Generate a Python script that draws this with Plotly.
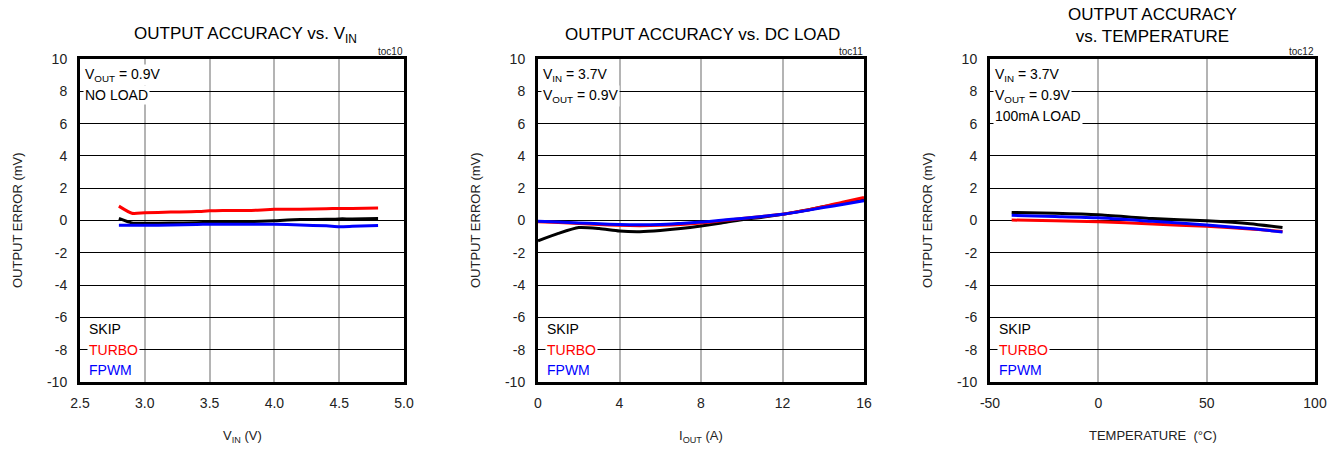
import plotly.graph_objects as go

# ---- data ----
vin = [2.8, 2.9, 3.0, 3.2, 3.4, 3.5, 3.6, 3.8, 4.0, 4.2, 4.4, 4.5, 4.6, 4.8]
vin_skip = [0.13, -0.15, -0.17, -0.16, -0.14, -0.12, -0.11, -0.08, -0.01, 0.06, 0.07, 0.1, 0.1, 0.12]
vin_turbo = [0.89, 0.45, 0.48, 0.52, 0.55, 0.6, 0.62, 0.62, 0.69, 0.7, 0.73, 0.75, 0.75, 0.77]
vin_fpwm = [-0.3, -0.3, -0.3, -0.28, -0.25, -0.23, -0.23, -0.23, -0.23, -0.28, -0.33, -0.38, -0.36, -0.31]

iout = [0, 1, 2, 3, 4, 5, 6, 7, 8, 9, 10, 11, 12, 13, 14, 15, 16]
iout_skip = [-1.26, -0.8, -0.44, -0.5, -0.65, -0.69, -0.62, -0.5, -0.34, -0.15, 0.05, 0.2, 0.38, 0.6, 0.85, 1.06, 1.28]
iout_turbo = [-0.07, -0.12, -0.18, -0.24, -0.3, -0.32, -0.3, -0.24, -0.15, -0.02, 0.12, 0.25, 0.38, 0.6, 0.85, 1.15, 1.43]
iout_fpwm = [-0.05, -0.1, -0.15, -0.2, -0.25, -0.27, -0.25, -0.18, -0.1, 0.02, 0.13, 0.25, 0.38, 0.58, 0.8, 1.0, 1.22]

temp = [-40, -20, 0, 25, 50, 70, 85]
temp_skip = [0.5, 0.45, 0.36, 0.12, -0.02, -0.2, -0.44]
temp_turbo = [0.03, -0.02, -0.07, -0.22, -0.36, -0.52, -0.68]
temp_fpwm = [0.32, 0.25, 0.17, -0.05, -0.28, -0.5, -0.71]

y_ticks = [-10, -8, -6, -4, -2, 0, 2, 4, 6, 8, 10]
y_labels = ["-10", "-8", "-6", "-4", "-2", "0", "2", "4", "6", "8", "10"]
x1_ticks = [2.5, 3.0, 3.5, 4.0, 4.5, 5.0]
x1_labels = ["2.5", "3.0", "3.5", "4.0", "4.5", "5.0"]
x2_ticks = [0, 4, 8, 12, 16]
x2_labels = ["0", "4", "8", "12", "16"]
x3_ticks = [-50, 0, 50, 100]
x3_labels = ["-50", "0", "50", "100"]

series_names = ["SKIP", "TURBO", "FPWM"]
series_colors = ["#000000", "#ff0000", "#0000ff"]

W, H = 1338, 450
FONT = "Liberation Sans, Arial, sans-serif"

# panel frames in pixels: (left, right)
panels = [(80, 404), (538, 864), (990, 1315)]
top_px, bot_px = 59, 382

fig = go.Figure()

datasets = [
    (vin, [vin_skip, vin_turbo, vin_fpwm]),
    (iout, [iout_skip, iout_turbo, iout_fpwm]),
    (temp, [temp_skip, temp_turbo, temp_fpwm]),
]

for i, (xs, ys) in enumerate(datasets):
    xa = "x" if i == 0 else f"x{i+1}"
    ya = "y" if i == 0 else f"y{i+1}"
    for name, col, yv in zip(series_names, series_colors, ys):
        fig.add_trace(go.Scatter(x=xs, y=yv, mode="lines", name=name,
                                 line=dict(color=col, width=3, shape="spline", smoothing=0.6),
                                 xaxis=xa, yaxis=ya, showlegend=False, hoverinfo="skip"))

xranges = [[2.5, 5.0], [0, 16], [-50, 100]]
xtickvals = [x1_ticks, x2_ticks, x3_ticks]
xticktext = [x1_labels, x2_labels, x3_labels]

layout = dict(template="none", width=W, height=H, margin=dict(l=0, r=0, t=0, b=0, pad=0),
              paper_bgcolor="white", plot_bgcolor="white",
              font=dict(family=FONT, size=13, color="#222"))

ydom = [1 - bot_px / H, 1 - top_px / H]
for i, (l, r) in enumerate(panels):
    xkey = "xaxis" if i == 0 else f"xaxis{i+1}"
    ykey = "yaxis" if i == 0 else f"yaxis{i+1}"
    yname = "y" if i == 0 else f"y{i+1}"
    xname = "x" if i == 0 else f"x{i+1}"
    layout[xkey] = dict(domain=[l / W, r / W], range=xranges[i], anchor=yname,
                        automargin=False,
                        tickmode="array", tickvals=xtickvals[i], ticktext=xticktext[i],
                        showgrid=True, gridcolor="#b4b4b4", gridwidth=2,
                        zeroline=False, showline=True, linecolor="black", linewidth=3,
                        mirror=True, ticks="outside", ticklen=6, tickcolor="rgba(0,0,0,0)",
                        tickfont=dict(family=FONT, size=14, color="#222"))
    layout[ykey] = dict(domain=ydom, range=[-10, 10], anchor=xname,
                        automargin=False,
                        tickmode="array", tickvals=y_ticks, ticktext=y_labels,
                        showgrid=True, gridcolor="black", gridwidth=1,
                        zeroline=False, showline=True, linecolor="black", linewidth=3,
                        mirror=True, ticks="outside", ticklen=7, tickcolor="rgba(0,0,0,0)",
                        tickfont=dict(family=FONT, size=14, color="#222"))

fig.update_layout(**layout)

ann = []
def px_x(p):
    return p / W
def px_y(p):
    return 1 - p / H

titles = [
    ("OUTPUT ACCURACY vs. V<sub>IN</sub>", 245, 35),
    ("OUTPUT ACCURACY vs. DC LOAD", 702, 35),
    ("OUTPUT ACCURACY<br>vs. TEMPERATURE", 1152, 25),
]
for t, x, y in titles:
    ann.append(dict(text=t, x=px_x(x), y=px_y(y), xref="paper", yref="paper",
                    xanchor="center", yanchor="middle", showarrow=False,
                    font=dict(family=FONT, size=17, color="black")))

tocs = ["toc10", "toc11", "toc12"]
for (l, r), t in zip(panels, tocs):
    ann.append(dict(text=t, x=px_x(r + 1), y=px_y(52), xref="paper", yref="paper",
                    xanchor="right", yanchor="middle", showarrow=False,
                    font=dict(family=FONT, size=10, color="#222")))

xtitles = ["V<sub>IN</sub> (V)", "I<sub>OUT</sub> (A)", "TEMPERATURE  (°C)"]
for (l, r), t in zip(panels, xtitles):
    ann.append(dict(text=t, x=px_x((l + r) / 2), y=px_y(426), xref="paper", yref="paper",
                    xanchor="center", yanchor="top", showarrow=False,
                    font=dict(family=FONT, size=13, color="#222")))
    ann.append(dict(text="OUTPUT ERROR (mV)", x=px_x(l - 63), y=px_y(220), xref="paper",
                    yref="paper", xanchor="center", yanchor="middle", showarrow=False,
                    textangle=-90, font=dict(family=FONT, size=13, color="#222")))

conds = [
    ["V<sub>OUT</sub> = 0.9V", "NO LOAD"],
    ["V<sub>IN</sub> = 3.7V", "V<sub>OUT</sub> = 0.9V"],
    ["V<sub>IN</sub> = 3.7V", "V<sub>OUT</sub> = 0.9V", "100mA LOAD"],
]
for (l, r), lines in zip(panels, conds):
    for k, t in enumerate(lines):
        ann.append(dict(text=t, x=px_x(l + 3), y=px_y(64 + 21 * k), xref="paper", yref="paper",
                        xanchor="left", yanchor="top", showarrow=False, bgcolor="white",
                        borderpad=1, font=dict(family=FONT, size=14, color="black")))
    for k, (nm, col) in enumerate(zip(series_names, series_colors)):
        ann.append(dict(text=nm, x=px_x(l + 7), y=px_y(329 + 20.5 * k), xref="paper", yref="paper",
                        xanchor="left", yanchor="middle", showarrow=False, bgcolor="white",
                        borderpad=1, font=dict(family=FONT, size=14, color=col)))

fig.update_layout(annotations=ann)
fig.write_html("out.html", config={"displayModeBar": False},
               post_script="document.body.style.margin='0px';document.body.style.overflow='hidden';")
